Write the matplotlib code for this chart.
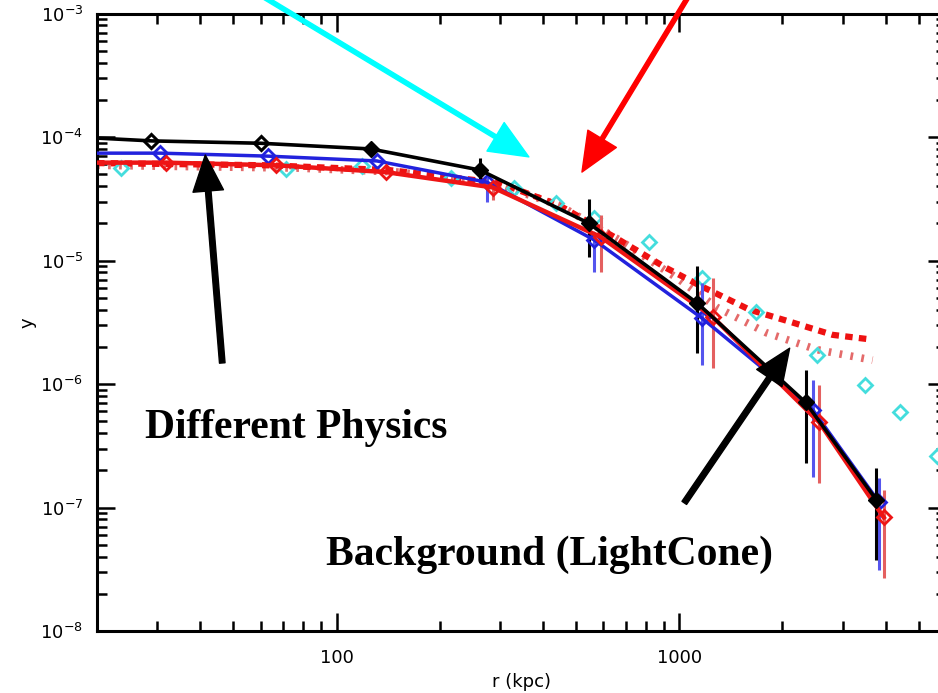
import matplotlib
matplotlib.use("Agg")
import matplotlib.pyplot as plt
from matplotlib.ticker import LogLocator, NullFormatter, FixedLocator, FixedFormatter

# ---------------- data ----------------
r_black = [20, 28.8, 60, 126, 262, 545, 1130, 2335, 3760]
y_black = [9.8e-5, 9.3e-5, 8.9e-5, 8.0e-5, 5.4e-5, 2.0e-5, 4.5e-6, 7.1e-7, 1.15e-7]
err_black_hi = [None, None, None, None, 6.76e-5, 3.15e-5, 9.0e-6, 1.30e-6, 2.09e-7]
err_black_lo = [None, None, None, None, 4.25e-5, 1.07e-5, 1.78e-6, 2.29e-7, 3.76e-8]

r_blue = [20, 30.6, 63, 131, 275, 564, 1167, 2450, 3830]
y_blue = [7.4e-5, 7.4e-5, 7.0e-5, 6.4e-5, 4.3e-5, 1.47e-5, 3.4e-6, 6.2e-7, 1.1e-7]
err_blue_hi = [None, None, None, None, 4.74e-5, 1.67e-5, 6.6e-6, 1.08e-6, 1.73e-7]
err_blue_lo = [None, None, None, None, 2.98e-5, 8.1e-6, 1.43e-6, 1.77e-7, 3.1e-8]

r_red = [20, 31.8, 66.7, 139, 286, 590, 1250, 2560, 3950]
y_red = [6.2e-5, 6.2e-5, 5.9e-5, 5.2e-5, 3.9e-5, 1.55e-5, 3.5e-6, 4.9e-7, 8.3e-8]
err_red_hi = [None, None, None, None, 4.4e-5, 2.33e-5, 7.2e-6, 9.8e-7, 1.39e-7]
err_red_lo = [None, None, None, None, 3.09e-5, 8.1e-6, 1.35e-6, 1.58e-7, 2.7e-8]

r_red_dash = [20, 63, 142, 298, 446, 654, 916, 1144, 1602, 2098, 2802, 3594]
y_red_dash = [6.15e-5, 5.9e-5, 5.4e-5, 4.25e-5, 2.8e-5, 1.52e-5, 8.7e-6, 6.3e-6, 4.0e-6, 3.2e-6, 2.5e-6, 2.3e-6]

r_red_dot = [20, 77, 152, 298, 446, 668, 1000, 1282, 1795, 2516, 3664]
y_red_dot = [5.9e-5, 5.6e-5, 5.2e-5, 4.1e-5, 2.8e-5, 1.47e-5, 7.0e-6, 4.2e-6, 2.6e-6, 1.9e-6, 1.56e-6]

r_cyan = [23.5, 71, 119, 215, 330, 437, 564, 817, 1167, 1679, 2515, 3475, 4400, 5640]
y_cyan = [5.6e-5, 5.5e-5, 5.8e-5, 4.65e-5, 3.9e-5, 2.9e-5, 2.2e-5, 1.41e-5, 7.2e-6,
          3.8e-6, 1.72e-6, 9.8e-7, 5.9e-7, 2.6e-7]

xtick_vals = [100, 1000]
xtick_labels = ["100", "1000"]
ytick_vals = [1e-8, 1e-7, 1e-6, 1e-5, 1e-4, 1e-3]
ytick_labels = [r"$10^{-8}$", r"$10^{-7}$", r"$10^{-6}$", r"$10^{-5}$", r"$10^{-4}$", r"$10^{-3}$"]

label_physics = "Different Physics"
label_background = "Background (LightCone)"

# ---------------- figure ----------------
W, H = 938, 693
fig = plt.figure(figsize=(W / 100, H / 100), dpi=100)
ax = fig.add_axes([97 / W, 62 / H, (946 - 97) / W, (631 - 13.5) / H])
ax.set_xscale("log")
ax.set_yscale("log")
ax.set_xlim(20, 6000)
ax.set_ylim(1e-8, 1e-3)


def errbars(r, hi, lo, color):
    for ri, h, l in zip(r, hi, lo):
        if h is not None:
            ax.plot([ri, ri], [l, h], color=color, lw=2.2, solid_capstyle="butt", zorder=4)


# dotted (hatched-look) and thick dashed red models
ax.plot(r_red_dot, y_red_dot, color="#e46a6a", lw=5.5, linestyle=(0, (0.35, 1.1)), zorder=2)
ax.plot(r_red_dash, y_red_dash, color="#ee1111", lw=4.5, linestyle=(0, (1.2, 1.0)), zorder=2)

# cyan open diamonds
ax.plot(r_cyan, y_cyan, linestyle="none", marker="D", markersize=7.5, mfc="none",
        mec="#44dddd", mew=2, zorder=3)

errbars(r_blue, err_blue_hi, err_blue_lo, "#5555ee")
errbars(r_red, err_red_hi, err_red_lo, "#e46060")
errbars(r_black, err_black_hi, err_black_lo, "black")

ax.plot(r_blue, y_blue, color="#2222dd", lw=2.5, marker="D", markersize=7, mfc="none",
        mec="#2222dd", mew=2, zorder=5, markevery=list(range(1, len(r_blue))))
ax.plot(r_red, y_red, color="#ee1515", lw=3.2, marker="D", markersize=7, mfc="none",
        mec="#ee1515", mew=2, zorder=6, markevery=list(range(1, len(r_red))))
ax.plot(r_black, y_black, color="black", lw=2.6, marker="D", markersize=7, mfc="none",
        mec="black", mew=2.2, zorder=7, markevery=[1, 2])
ax.plot(r_black, y_black, linestyle="none", marker="D", markersize=8, mfc="black",
        mec="black", zorder=7, markevery=list(range(3, len(r_black))))

# ---------------- axes style (IDL-like) ----------------
for s in ax.spines.values():
    s.set_linewidth(2.2)
ax.xaxis.set_major_locator(FixedLocator(xtick_vals))
ax.xaxis.set_major_formatter(FixedFormatter(xtick_labels))
ax.xaxis.set_minor_locator(LogLocator(base=10, subs=range(2, 10), numticks=20))
ax.xaxis.set_minor_formatter(NullFormatter())
ax.yaxis.set_major_locator(FixedLocator(ytick_vals))
ax.yaxis.set_major_formatter(FixedFormatter(ytick_labels))
ax.yaxis.set_minor_locator(LogLocator(base=10, subs=range(2, 10), numticks=20))
ax.yaxis.set_minor_formatter(NullFormatter())
ax.tick_params(which="both", direction="in", top=True, right=True, width=1.8)
ax.tick_params(which="major", length=13)
ax.tick_params(which="minor", length=7)
ax.tick_params(axis="x", which="major", labelsize=13, pad=13)
ax.tick_params(axis="y", which="major", labelsize=13, pad=10)
ax.set_xlabel("r (kpc)", fontsize=13, labelpad=4)
ax.set_ylabel("y", fontsize=13, labelpad=3)

# ---------------- annotations ----------------
tfont = dict(family=["Liberation Serif", "DejaVu Serif"], weight="bold", size=30)
ax.text(76.4, 3.66e-7, label_physics, ha="center", va="baseline", **tfont)
ax.text(417, 3.42e-8, label_background, ha="center", va="baseline", **tfont)


def arrow(tail, tip, color, width, hw, hl):
    ax.annotate("", xy=tip, xytext=tail, xycoords="data", textcoords="data",
                annotation_clip=False,
                arrowprops=dict(color=color, width=width, headwidth=hw, headlength=hl,
                                shrink=0.0), zorder=10)


arrow((46.4, 1.48e-6), (41.4, 7.15e-5), "black", 4.0, 22, 26)
arrow((1034, 1.09e-7), (2099, 1.95e-6), "black", 4.0, 22, 26)
arrow((60, 1.41e-3), (364, 6.9e-5), "#00ffff", 3.0, 24, 28)
arrow((1069, 1.41e-3), (520, 5.2e-5), "#ff0000", 3.0, 24, 28)

fig.savefig("out.png", dpi=100)
